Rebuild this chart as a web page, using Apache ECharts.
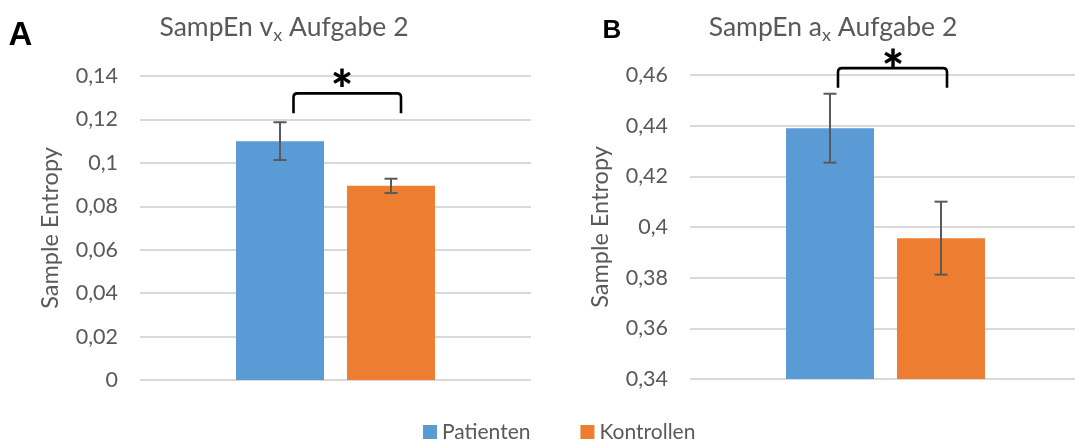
<!DOCTYPE html>
<html><head><meta charset="utf-8">
<script src="https://cdn.jsdelivr.net/npm/echarts@6/dist/echarts.min.js"></script>
<style>html,body{margin:0;padding:0;background:#fff}#c{width:1075px;height:440px}</style>
</head><body><div id="c"></div>
<script>
// ---- data ----
const groups = ['Patienten', 'Kontrollen'];
const category = ['Aufgabe 2'];
const vxMean = [0.110, 0.0894];
const vxErr = [0.0087, 0.0033];
const axMean = [0.439, 0.3956];
const axErr = [0.0136, 0.0144];
const vxTicks = ['0', '0,02', '0,04', '0,06', '0,08', '0,1', '0,12', '0,14'];
const axTicks = ['0,34', '0,36', '0,38', '0,4', '0,42', '0,44', '0,46'];
const titles = ['SampEn v{s|x} Aufgabe 2', 'SampEn a{s|x} Aufgabe 2'];
const panelLetters = ['A', 'B'];
const yName = 'Sample Entropy';
const significance = ['*', '*'];

// ---- styling / layout ----
const colors = ['#5B9BD5', '#ED7D31'];
const grey = '#595959';
const FONT = 'Lato';
const BAR_W = 88, BAR_GAP = 23;
const offs = [-(BAR_W + BAR_GAP) / 2, (BAR_W + BAR_GAP) / 2];
const bracketCfg = [
  { top: 0.1320, leg: 0.1228, x0: 13.5, x1: 10, starDx: 6.5, starDy: -1 },
  { top: 0.4627, leg: 0.4550, x0: 8, x1: 6, starDx: 7.5, starDy: 3.5 }
];

const panels = [
  { mean: vxMean, err: vxErr, ticks: vxTicks, min: 0, max: 0.14 },
  { mean: axMean, err: axErr, ticks: axTicks, min: 0.34, max: 0.46 }
];

const chart = echarts.init(document.getElementById('c'), null, { renderer: 'canvas' });

const grids = [
  { left: 140, width: 391, top: 76, bottom: 60, outerBoundsMode: 'none' },
  { left: 690, width: 391, top: 75, bottom: 61, outerBoundsMode: 'none' }
];

const xAxes = panels.map((p, i) => ({
  gridIndex: i, type: 'category', data: category,
  axisLine: { show: false }, axisTick: { show: false }, axisLabel: { show: false }
}));

const yAxes = panels.map((p, i) => ({
  gridIndex: i, type: 'value', min: p.min, max: p.max, interval: 0.02,
  axisLine: { show: false }, axisTick: { show: false },
  splitLine: { show: true, lineStyle: { color: '#D9D9D9', width: 2 } },
  axisLabel: {
    color: grey, fontFamily: FONT, fontSize: 21.5, margin: 22,
    formatter: (v) => p.ticks[Math.round((v - p.min) / 0.02)]
  },
  name: yName, nameLocation: 'middle', nameRotate: 90, nameGap: 78,
  nameTextStyle: { color: grey, fontFamily: FONT, fontSize: 23.5 }
}));

const series = [];
panels.forEach((p, pi) => {
  groups.forEach((g, gi) => {
    series.push({
      type: 'bar', name: g, xAxisIndex: pi, yAxisIndex: pi,
      data: [p.mean[gi]], barWidth: BAR_W, barGap: (BAR_GAP / BAR_W * 100).toFixed(1) + '%',
      itemStyle: { color: colors[gi] }, silent: true, animation: false
    });
  });
  // error bars
  series.push({
    type: 'custom', xAxisIndex: pi, yAxisIndex: pi, z: 5, clip: false, animation: false, silent: true,
    encode: { x: 0, y: [1, 2] },
    data: p.mean.map((m, gi) => [0, m - p.err[gi], m + p.err[gi], gi]),
    renderItem: (params, api) => {
      const lo = api.coord([api.value(0), api.value(1)]);
      const hi = api.coord([api.value(0), api.value(2)]);
      const x = lo[0] + offs[api.value(3)];
      const st = { stroke: grey, lineWidth: 2 };
      return { type: 'group', children: [
        { type: 'line', shape: { x1: x, y1: lo[1], x2: x, y2: hi[1] }, style: st },
        { type: 'line', shape: { x1: x - 6.5, y1: hi[1], x2: x + 6.5, y2: hi[1] }, style: st },
        { type: 'line', shape: { x1: x - 6.5, y1: lo[1], x2: x + 6.5, y2: lo[1] }, style: st }
      ] };
    }
  });
  // significance bracket
  const b = bracketCfg[pi];
  series.push({
    type: 'custom', xAxisIndex: pi, yAxisIndex: pi, z: 6, clip: false, animation: false, silent: true,
    encode: { x: 0, y: [1, 2] },
    data: [[0, b.top, b.leg]],
    renderItem: (params, api) => {
      const t = api.coord([api.value(0), api.value(1)]);
      const l = api.coord([api.value(0), api.value(2)]);
      const xL = t[0] + offs[0] + b.x0, xR = t[0] + offs[1] + b.x1;
      const yT = t[1], yB = l[1], r = 4;
      const d = `M${xL},${yB} L${xL},${yT + r} Q${xL},${yT} ${xL + r},${yT} L${xR - r},${yT} Q${xR},${yT} ${xR},${yT + r} L${xR},${yB}`;
      return { type: 'group', children: [
        { type: 'path', shape: { pathData: d }, style: { stroke: '#000', lineWidth: 2.6, fill: null } },
        { type: 'text', x: t[0] + b.starDx, y: yT + b.starDy,
          style: { text: significance[pi], fill: '#000', font: '900 53px Lato', align: 'center', verticalAlign: 'middle' } }
      ] };
    }
  });
});

const titleStyle = {
  fontFamily: FONT, fontSize: 26.5, fontWeight: 'normal', color: grey, lineHeight: 34,
  rich: { s: { fontFamily: FONT, fontSize: 18, color: grey, lineHeight: 18, verticalAlign: 'bottom' } }
};

chart.setOption({
  animation: false,
  textStyle: { fontFamily: FONT },
  title: [
    { text: titles[0], left: 279, top: 5, textAlign: 'center', textStyle: titleStyle },
    { text: titles[1], left: 828, top: 5, textAlign: 'center', textStyle: titleStyle }
  ],
  legend: {
    data: groups, left: 418, top: 416, itemWidth: 14, itemHeight: 14, itemGap: 50, icon: 'rect',
    selectedMode: false,
    textStyle: { color: grey, fontFamily: FONT, fontSize: 21, lineHeight: 22 }
  },
  graphic: [
    { type: 'text', x: 20.5, y: 36, style: { text: panelLetters[0], font: 'bold 33px "Liberation Sans"', fill: '#000', align: 'center', verticalAlign: 'middle' } },
    { type: 'text', x: 612, y: 30.5, style: { text: panelLetters[1], font: 'bold 26px "Liberation Sans"', fill: '#000', align: 'center', verticalAlign: 'middle' } }
  ],
  grid: grids,
  xAxis: xAxes,
  yAxis: yAxes,
  series: series
});
</script>
</body></html>
